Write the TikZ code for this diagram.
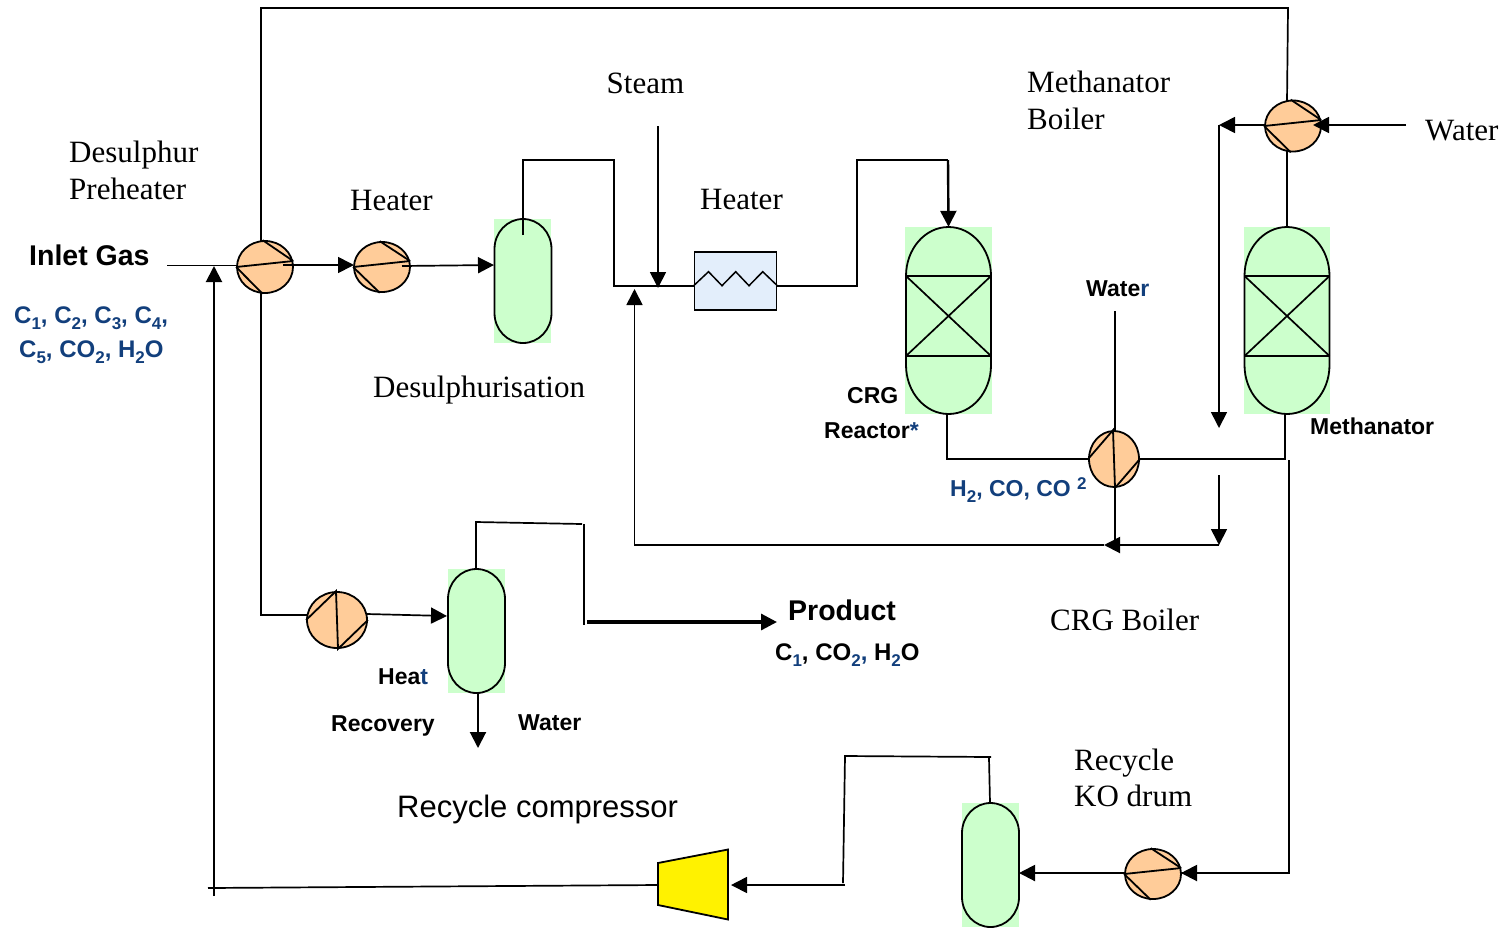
\documentclass[tikz,border=0pt]{standalone}
\usepackage{fontspec}
\setmainfont{Liberation Serif}
\newfontfamily\sansf{Liberation Sans}
\usetikzlibrary{shapes.geometric,arrows.meta}
\definecolor{vgreen}{HTML}{CCFFCC}
\definecolor{exorange}{HTML}{FFCC99}
\definecolor{hxblue}{HTML}{E3EEFB}
\definecolor{labblue}{HTML}{123F7C}
\tikzset{
  pipe/.style={line width=1.7pt,draw=black},
  flow/.style={pipe,-{Triangle[length=16pt,width=16pt]}},
  exch/.style={ellipse,draw=black,line width=1.8pt,fill=exorange,inner sep=0pt},
  vbg/.style={fill=vgreen,inner sep=0pt,draw=none},
  hxbox/.style={rectangle,draw=black,line width=1.7pt,fill=hxblue,inner sep=0pt,minimum width=82pt,minimum height=58pt},
  ser/.style={inner sep=0pt,anchor=base west,font=\fontsize{31}{31}\selectfont},
  bsan/.style={inner sep=0pt,anchor=base west,font=\sansf\bfseries\fontsize{23}{23}\selectfont},
  bchem/.style={bsan,font=\sansf\bfseries\fontsize{24}{24}\selectfont},
  bblue/.style={bchem,text=labblue},
  big/.style={inner sep=0pt,anchor=base west,font=\sansf\bfseries\fontsize{28.5}{28.5}\selectfont},
}
\newcommand{\sbs}[1]{\raisebox{-0.28em}{\fontsize{17}{17}\selectfont #1}}
\newcommand{\capsule}[6]{% cx top bottom rx ry(top/bottom), unused
  \pgfmathsetmacro\xl{#1-#4}\pgfmathsetmacro\xr{#1+#4}%
  \pgfmathsetmacro\ya{#2+#5}\pgfmathsetmacro\yb{#3-#5}%
  \pgfmathsetmacro\kxa{#1-#4*0.5523}\pgfmathsetmacro\kxb{#1+#4*0.5523}%
  \pgfmathsetmacro\kya{\ya-#5*0.5523}\pgfmathsetmacro\kyb{\yb+#5*0.5523}%
  \draw[line width=1.8pt,fill=vgreen] (\xl,\ya) .. controls (\xl,\kya) and (\kxa,#2) .. (#1,#2)
     .. controls (\kxb,#2) and (\xr,\kya) .. (\xr,\ya) -- (\xr,\yb)
     .. controls (\xr,\kyb) and (\kxb,#3) .. (#1,#3)
     .. controls (\kxa,#3) and (\xl,\kyb) .. (\xl,\yb) -- cycle;}
\newcommand{\exH}[1]{\draw[line width=1.8pt] (#1.west) -- (#1.12) (#1.95) -- (#1.12) (#1.west) -- (#1.265);}
\newcommand{\exV}[1]{\draw[line width=1.8pt] (#1.180) -- (#1.92) -- (#1.272) -- (#1.0);}
\begin{document}
\begin{tikzpicture}[x=1pt,y=-1pt]
\useasboundingbox (0,0) rectangle (1506,930);
% vessels
\node[vbg,minimum width=57pt,minimum height=124pt] (v1) at (522.5,281) {};
\capsule{523}{219}{343}{28.5}{30}{}
\node[vbg,minimum width=57pt,minimum height=124pt] (v2) at (476.5,631) {};
\capsule{476.5}{569}{693}{28.5}{30}{}
\node[vbg,minimum width=57pt,minimum height=124pt] (v3) at (990.5,865) {};
\capsule{990.5}{803}{927}{28.5}{30}{}
\node[vbg,minimum width=87pt,minimum height=187pt] (crg) at (948.5,320.5) {};
\capsule{948.5}{227}{414}{42.5}{49}{}
\node[vbg,minimum width=86pt,minimum height=187pt] (meth) at (1287,320.5) {};
\capsule{1287}{227}{414}{42.5}{49}{}
% catalyst beds
\coordinate (ca) at (906,276); \coordinate (cb) at (991,276); \coordinate (cc) at (991,356); \coordinate (cd) at (906,356);
\draw[line width=1.7pt] (ca) -- (cb) (cd) -- (cc) (ca) -- (cc) (cb) -- (cd);
\coordinate (ma) at (1244.5,276); \coordinate (mb) at (1329.5,276); \coordinate (mc) at (1329.5,356); \coordinate (md) at (1244.5,356);
\draw[line width=1.7pt] (ma) -- (mb) (md) -- (mc) (ma) -- (mc) (mb) -- (md);
% bends and free ends
\coordinate (in0) at (167,265.5); \coordinate (in1) at (237,265.5);
\coordinate (t1) at (261,8); \coordinate (t2) at (1288,8);
\coordinate (e1up) at (261,242); \coordinate (e1dn) at (261,291);
\coordinate (b1) at (261,615); \coordinate (e5in) at (307,615);
\coordinate (v1top) at (523,235); \coordinate (p1) at (523,160); \coordinate (p2) at (614,160); \coordinate (p3) at (614,285.7); \coordinate (hxl) at (695,285.7);
\coordinate (st0) at (658,126); \coordinate (st1) at (658,288);
\coordinate (hxr) at (777,285.7); \coordinate (q1) at (857,285.7); \coordinate (q2) at (857,160); \coordinate (q3) at (948,160);
\coordinate (rb1) at (947,414); \coordinate (rb2) at (947,459); \coordinate (e4l) at (1089,459);
\coordinate (e4r) at (1139,459); \coordinate (mb2) at (1285,459); \coordinate (mb1) at (1285,414);
\coordinate (w0) at (1115,311); \coordinate (w1) at (1115,431);
\coordinate (w2) at (1115,487); \coordinate (w3) at (1115,545);
\coordinate (rc0) at (1219,545); \coordinate (rc1) at (634.5,545); \coordinate (rc2) at (634.5,289);
\coordinate (rc3) at (1219,475);
\coordinate (rcm) at (1104,545);
\coordinate (e3u) at (1287,101); \coordinate (e3d) at (1287,151); \coordinate (mt) at (1287,227);
\coordinate (wa0) at (1406,125); \coordinate (wa1) at (1313,125);
\coordinate (e3l) at (1265,125); \coordinate (ld0) at (1219,125); \coordinate (ld1) at (1219,428);
\coordinate (ld2) at (1219,125);
\coordinate (r1) at (1289,460); \coordinate (r2) at (1289,873); \coordinate (e6r) at (1181,873); \coordinate (e6x) at (1198,873); \coordinate (e6l) at (1125,873); \coordinate (v3r) at (1019,873);
\coordinate (v3t) at (990,803); \coordinate (v3u) at (989,758); \coordinate (k1) at (991,757); \coordinate (k2) at (845,756); \coordinate (k3) at (843,883);
\coordinate (k4) at (845,885); \coordinate (k5) at (731,885);
\coordinate (c1) at (658,885); \coordinate (c2) at (208,888); \coordinate (u0) at (214,896); \coordinate (u1) at (214,266);
\coordinate (v2t) at (476,569); \coordinate (n1) at (476,522); \coordinate (n2) at (582,524); \coordinate (n3) at (584,524); \coordinate (n4) at (584,625); \coordinate (n5) at (587,622); \coordinate (n6) at (777,622);
\coordinate (v2b) at (478,693); \coordinate (v2d) at (478,748);
\coordinate (e5o) at (367,614); \coordinate (v2l) at (447,616);
\coordinate (e1o) at (283,265); \coordinate (e2i) at (354,265);
\coordinate (e2o) at (402,266); \coordinate (v1l) at (494,265);
% pipes (drawn under exchangers)
\draw[pipe] (e1up) -- (t1) -- (t2) -- (e3u);
\draw[pipe] (e1dn) -- (b1) -- (e5in);
\draw[pipe] (v1top) -- (p1) -- (p2) -- (p3) -- (hxl);
\draw[pipe] (hxr) -- (q1) -- (q2) -- (q3);
\draw[flow,line width=2.4pt] (q3) -- (crg.north);
\draw[pipe] (rb1) -- (rb2) -- (e4l);
\draw[pipe] (e4r) -- (mb2) -- (mb1);
\draw[pipe] (w0) -- (w1);
\draw[pipe,line width=2.2pt] (w2) -- (w3);
\draw[pipe] (e3d) -- (mt);
\draw[flow,line width=2pt] (rc0) -- (rcm);
\draw[flow] (rcm) -- (rc1) -- (rc2);
\draw[flow] (rc3) -- (rc0);
\draw[flow] (ld2) -- (ld1);
\draw[pipe] (r1) -- (r2) -- (e6r);
\draw[pipe] (v3t) -- (v3u);
\draw[pipe] (k1) -- (k2) -- (k3);
\draw[pipe] (c1) -- (c2);
\draw[flow,line width=2pt] (u0) -- (u1);
\draw[pipe] (v2t) -- (n1) -- (n2);
\draw[pipe,line width=2.2pt] (n3) -- (n4);
% exchangers
\node[exch,minimum width=56pt,minimum height=52pt] (e1) at (265,267) {}; \exH{e1}
\node[exch,minimum width=56pt,minimum height=50pt] (e2) at (382,267) {}; \exH{e2}
\node[exch,minimum width=56pt,minimum height=51pt] (e3) at (1293,126) {}; \exH{e3}
\node[exch,minimum width=50pt,minimum height=56pt] (e4) at (1114,459) {}; \exV{e4}
\node[exch,minimum width=60pt,minimum height=56pt] (e5) at (337,620) {}; \exV{e5}
\node[exch,minimum width=56pt,minimum height=50pt] (e6) at (1153,874) {}; \exH{e6}
% heater box
\node[hxbox] (hx) at (735.5,281) {};
\coordinate (z1) at (708.5,271.7); \coordinate (z2) at (722,285.7); \coordinate (z3) at (735.7,271.7); \coordinate (z4) at (749,285.7); \coordinate (z5) at (762.7,271.7);
\draw[line width=1.5pt] (hx.west |- hxl) -- (z1) -- (z2) -- (z3) -- (z4) -- (z5) -- (hx.east |- hxl);
% compressor
\node[inner sep=0pt,minimum width=70pt,minimum height=70pt] (comp) at (693,885) {};
\coordinate (y1) at (658,863); \coordinate (y2) at (728,849.5); \coordinate (y3) at (728,919.5); \coordinate (y4) at (658,905);
\draw[line width=1.8pt,fill=yellow] (y1) -- (y2) -- (y3) -- (y4) -- cycle;
% arrows on top
\draw[pipe] (in0) -- (in1);
\draw[flow] (e1o) -- (e2i);
\draw[flow] (e2o) -- (v1l);
\draw[flow] (st0) -- (st1);
\draw[flow] (wa0) -- (wa1);
\draw[flow] (e3l) -- (ld0);
\draw[flow] (e5o) -- (v2l);
\draw[flow,line width=3.2pt] (n5) -- (n6);
\draw[flow,line width=2pt] (v2b) -- (v2d);
\draw[flow,line width=2pt] (e6l) -- (v3r);
\draw[flow,line width=2pt] (e6x) -- (e6r);
\draw[flow] (k4) -- (k5);
% labels
\node[ser] (l1) at (69,162) {Desulphur};
\node[ser] (l2) at (69,199) {Preheater};
\node[ser] (l3) at (350,210) {Heater};
\node[ser] (l4) at (606.5,93) {Steam};
\node[ser] (l5) at (1027,92) {Methanator};
\node[ser] (l6) at (1027,129) {Boiler};
\node[ser] (l7) at (1425,140) {Water};
\node[ser] (l8) at (700,209) {Heater};
\node[ser] (l9) at (373,397) {Desulphurisation};
\node[ser] (l10) at (1050,630) {CRG Boiler};
\node[ser] (l11) at (1074,770) {Recycle};
\node[ser] (l12) at (1074,806) {KO drum};
\node[inner sep=0pt,anchor=base west,font=\sansf\fontsize{31}{31}\selectfont] (l13) at (397,817) {Recycle compressor};
\node[big] (l14) at (29,265) {Inlet Gas};
\node[bblue] (l15) at (14,323) {C\sbs{1}, C\sbs{2}, C\sbs{3}, C\sbs{4},};
\node[bblue] (l16) at (19,357) {C\sbs{5}, CO\sbs{2}, H\sbs{2}O};
\node[bsan] (l17) at (847,403) {CRG};
\node[bsan] (l18) at (824,438) {Reactor\textcolor{labblue}{*}};
\node[bsan] (l19) at (1086,296) {Wate\textcolor{labblue}{r}};
\node[bsan] (l20) at (1310,434) {Methanator};
\node[bsan,text=labblue] (l21) at (950,496) {H\sbs{2}, CO, CO \raisebox{0.3em}{\fontsize{17}{17}\selectfont 2}};
\node[big] (l22) at (788,620) {Product};
\node[bchem] (l23) at (775,660) {C\textcolor{labblue}{\sbs{1}}, CO\textcolor{labblue}{\sbs{2},} H\textcolor{labblue}{\sbs{2}}O};
\node[bsan] (l24) at (378,684) {Hea\textcolor{labblue}{t}};
\node[bsan] (l25) at (331,731) {Recovery};
\node[bsan] (l26) at (518,730) {Water};
\end{tikzpicture}
\end{document}
